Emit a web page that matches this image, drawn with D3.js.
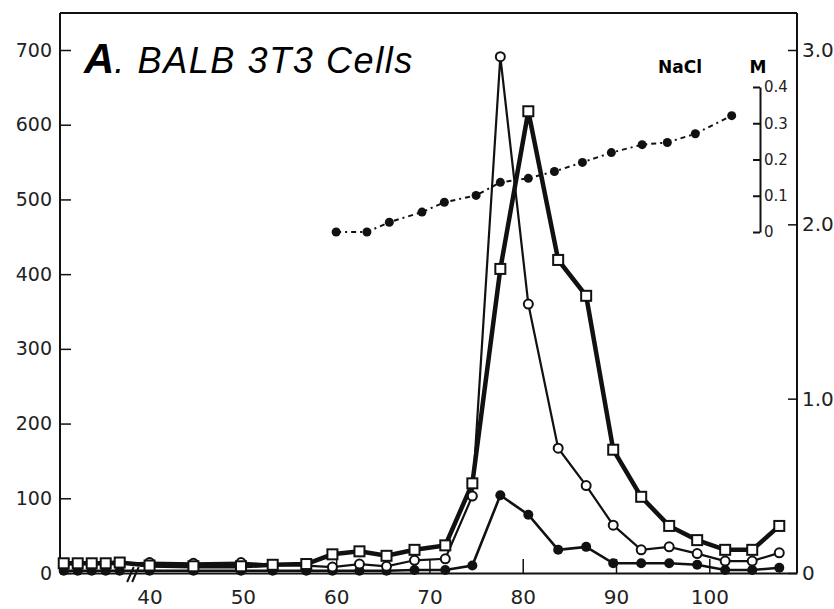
<!DOCTYPE html>
<html>
<head>
<meta charset="utf-8">
<script src="https://cdn.jsdelivr.net/npm/d3@7"></script>
<style>
  body { margin: 0; background: #fff; }
  svg { display: block; }
  .axis path, .axis line { stroke: #111; }
  .axis text { font-family: "DejaVu Sans", sans-serif; fill: #222; }
</style>
</head>
<body>
<svg width="834" height="609"></svg>
<script>
// fraction numbers (x), counts per fraction (left axis)
var fractions = [30.8, 32.3, 33.8, 35.3, 36.8, 40, 44.7, 49.8, 53.2, 56.8, 59.6, 62.5, 65.4, 68.4, 71.7,
                 74.6, 77.6, 80.6, 83.8, 86.8, 89.7, 92.7, 95.7, 98.7, 101.7, 104.6, 107.5];
var squareCounts = [13, 13, 13, 13, 14, 10, 9, 9, 11, 12, 25, 29, 23, 31, 37,
                    120, 407, 618, 419, 371, 165, 102, 63, 44, 31, 31, 63];
var openCircleCounts = [12, 12, 12, 12, 12, 14, 13, 14, 11, 10, 8, 12, 9, 17, 19,
                        103, 691, 360, 167, 117, 64, 31, 35, 26, 16, 16, 27];
var filledCounts = [3, 3, 3, 3, 3, 3, 3, 3, 3, 3, 3, 3, 3, 4, 4,
                    10, 104, 78, 31, 35, 13, 13, 13, 11, 4, 4, 7];

// NaCl gradient (inset scale, M)
var naclFractions = [60.0, 63.3, 65.7, 69.2, 71.6, 75.0, 77.6, 80.6, 83.4, 86.4, 89.5, 92.8, 95.5, 98.5, 102.4];
var naclMolar = [0.0, 0.0, 0.027, 0.055, 0.082, 0.101, 0.137, 0.148, 0.167, 0.192, 0.219, 0.241, 0.247, 0.271, 0.321];

var xTicks = [40, 50, 60, 70, 80, 90, 100];
var leftTicks = [0, 100, 200, 300, 400, 500, 600, 700];
var rightTicks = [0, 1, 2, 3];
var naclTicks = [0, 0.1, 0.2, 0.3, 0.4];

var svg = d3.select("svg");
var left = 60, right = 797, frameTop = 13, bottom = 573;

var x = d3.scaleLinear().domain([30.4, 109.4]).range([left, right]);
var y = d3.scaleLinear().domain([0, 700]).range([bottom, 50]);
var y2 = d3.scaleLinear().domain([0, 3]).range([bottom, 50]);
var yM = d3.scaleLinear().domain([0, 0.4]).range([232, 87]);

// frame
svg.append("line").attr("x1", left).attr("x2", right).attr("y1", frameTop).attr("y2", frameTop)
    .attr("stroke", "#111").attr("stroke-width", 2);

// X axis
var gx = svg.append("g")
    .attr("class", "axis")
    .attr("transform", "translate(0," + bottom + ")")
    .call(d3.axisBottom(x).tickValues(xTicks).tickSizeInner(-14).tickSizeOuter(0).tickPadding(17));
gx.select(".domain").attr("stroke-width", 2);
gx.selectAll("line").attr("stroke-width", 1.5);
gx.selectAll("text").style("font-size", "20px");

// left Y axis
var gy = svg.append("g")
    .attr("class", "axis")
    .attr("transform", "translate(" + left + ",0)")
    .call(d3.axisLeft(y).tickValues(leftTicks).tickSizeInner(-11).tickSizeOuter(0).tickPadding(8));
gy.select(".domain").attr("d", "M0," + frameTop + "V" + bottom).attr("stroke-width", 2);
gy.selectAll("line").attr("stroke-width", 1.5);
gy.selectAll("text").style("font-size", "19px");

// right Y axis (labels run off the edge as in the scan)
var gr = svg.append("g")
    .attr("class", "axis")
    .attr("transform", "translate(" + right + ",0)")
    .call(d3.axisRight(y2).tickValues(rightTicks).tickSizeInner(-9).tickSizeOuter(0).tickPadding(5)
        .tickFormat(function(d) { return d === 0 ? "0" : d.toFixed(1); }));
gr.select(".domain").attr("d", "M0," + frameTop + "V" + bottom).attr("stroke-width", 2);
gr.selectAll("line").attr("stroke-width", 1.5);
gr.selectAll("text").style("font-size", "20px");

// axis break
[0, 5].forEach(function(off) {
    svg.append("line")
        .attr("x1", x(37.6) + off).attr("y1", bottom + 9)
        .attr("x2", x(38.3) + off).attr("y2", bottom - 6)
        .attr("stroke", "#111").attr("stroke-width", 2);
});

// NaCl inset axis
var gm = svg.append("g")
    .attr("class", "axis")
    .attr("transform", "translate(760,0)")
    .call(d3.axisRight(yM).tickValues(naclTicks).tickSizeInner(-7).tickSizeOuter(0).tickPadding(4)
        .tickFormat(function(d) { return d === 0 ? "0" : d.toFixed(1); }));
gm.select(".domain").attr("stroke-width", 2);
gm.selectAll("line").attr("stroke-width", 2);
gm.selectAll("text").style("font-size", "15px");

svg.append("text").attr("x", 680).attr("y", 73).attr("text-anchor", "middle")
    .style("font-family", "DejaVu Sans, sans-serif").style("font-weight", "bold").style("font-size", "17px")
    .text("NaCl");
svg.append("text").attr("x", 758).attr("y", 73).attr("text-anchor", "middle")
    .style("font-family", "DejaVu Sans, sans-serif").style("font-weight", "bold").style("font-size", "17px")
    .text("M");

// title
var title = svg.append("text").attr("x", 84).attr("y", 73)
    .style("font-family", "Liberation Sans, Arial, sans-serif").style("font-style", "italic");
title.append("tspan").style("font-weight", "bold").style("font-size", "42px").text("A");
title.append("tspan").style("font-size", "36px").attr("textLength", 298).text(". BALB 3T3 Cells");

// series
function pts(vals) {
    return fractions.map(function(f, i) { return [f, vals[i]]; });
}
var line = d3.line().x(function(d) { return x(d[0]); }).y(function(d) { return y(d[1]); });

svg.append("path").datum(pts(filledCounts))
    .attr("d", line).attr("fill", "none").attr("stroke", "#111").attr("stroke-width", 2.6);
svg.append("path").datum(pts(openCircleCounts))
    .attr("d", line).attr("fill", "none").attr("stroke", "#111").attr("stroke-width", 2.2);
svg.append("path").datum(pts(squareCounts))
    .attr("d", line).attr("fill", "none").attr("stroke", "#111").attr("stroke-width", 4.5);

// NaCl
var nacl = naclFractions.map(function(f, i) { return [f, naclMolar[i]]; });
svg.append("path").datum(nacl)
    .attr("d", d3.line().x(function(d) { return x(d[0]); }).y(function(d) { return yM(d[1]); }))
    .attr("fill", "none").attr("stroke", "#111").attr("stroke-width", 2)
    .attr("stroke-dasharray", "5,4,2,4");
svg.selectAll(".nacl").data(nacl).enter().append("circle")
    .attr("class", "nacl")
    .attr("cx", function(d) { return x(d[0]); })
    .attr("cy", function(d) { return yM(d[1]); })
    .attr("r", 4.5).attr("fill", "#111");

// markers
svg.selectAll(".fdot").data(pts(filledCounts)).enter().append("circle")
    .attr("class", "fdot")
    .attr("cx", function(d) { return x(d[0]); })
    .attr("cy", function(d) { return y(d[1]); })
    .attr("r", 5).attr("fill", "#111");
svg.selectAll(".odot").data(pts(openCircleCounts)).enter().append("circle")
    .attr("class", "odot")
    .attr("cx", function(d) { return x(d[0]); })
    .attr("cy", function(d) { return y(d[1]); })
    .attr("r", 4.5).attr("fill", "#fff").attr("stroke", "#111").attr("stroke-width", 2);
svg.selectAll(".sq").data(pts(squareCounts)).enter().append("rect")
    .attr("class", "sq")
    .attr("x", function(d) { return x(d[0]) - 5; })
    .attr("y", function(d) { return y(d[1]) - 5; })
    .attr("width", 10).attr("height", 10)
    .attr("fill", "#fff").attr("stroke", "#111").attr("stroke-width", 2);
</script>
</body>
</html>
